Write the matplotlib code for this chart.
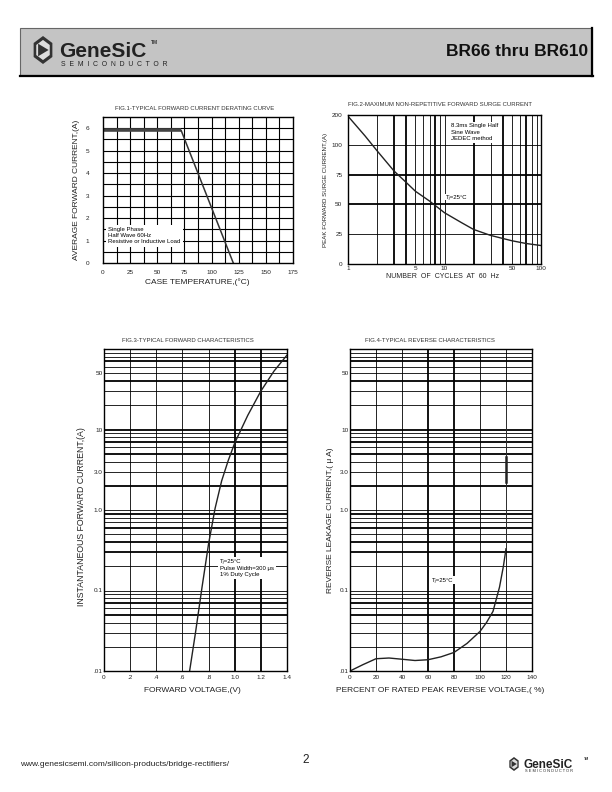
import matplotlib.pyplot as plt
from matplotlib.patches import Rectangle, RegularPolygon, Polygon

plt.rcParams['font.family'] = ['Liberation Sans', 'DejaVu Sans']

# ---- data ----
# Fig.1 derating curve
derate_temp = [0, 72, 120]
derate_amps = [5.9, 5.9, 0]

# Fig.2 surge current (axis units, top gridline is labelled "200")
surge_cycles = [1, 1.5, 2, 3, 4, 5, 7, 10, 15, 20, 30, 50, 70, 100]
surge_amps = [124, 107.5, 95, 78, 68.5, 61, 52.8, 43, 34.7, 29, 24, 19.5, 17.2, 15.5]
surge_yticks = [0, 25, 50, 75, 100, 125]
surge_ylabels = ['0', '25', '50', '75', '100', '200']
surge_xticks = [1, 5, 10, 50, 100]

# Fig.3 forward characteristics
fwd_volts = [0.655, 0.7, 0.75, 0.8, 0.85, 0.9, 0.95, 1.0, 1.1, 1.2, 1.3, 1.4]
fwd_amps = [0.01, 0.03, 0.11, 0.38, 1.05, 2.3, 4.1, 6.8, 15, 30, 53, 84]
fwd_xticks = [0, 0.2, 0.4, 0.6, 0.8, 1.0, 1.2, 1.4]
fwd_xlabels = ['0', '.2', '.4', '.6', '.8', '1.0', '1.2', '1.4']

# Fig.4 reverse characteristics
rev_pct = [0, 10, 20, 30, 40, 50, 60, 70, 80, 90, 100, 105, 110, 115, 118, 120]
rev_ua = [0.01, 0.012, 0.0142, 0.0145, 0.014, 0.0135, 0.0138, 0.015, 0.017,
          0.022, 0.031, 0.04, 0.055, 0.11, 0.2, 0.33]
rev_riser_pct = [120, 120]
rev_riser_ua = [0.33, 23]
rev_riser_thick = [2.2, 4.6]

log_yticks = [0.01, 0.1, 1, 3, 10, 50]
log_ylabels = ['.01', '0.1', '1.0', '3.0', '10', '50']
thick_rows = [0.05, 0.07, 0.3, 0.4, 0.6, 0.9, 2, 5, 7, 10, 40, 70]

W, H = 612, 792
fig = plt.figure(figsize=(6.12, 7.92), dpi=100)


def rect(l, t, r, b):
    return [l / W, 1 - b / H, (r - l) / W, (b - t) / H]


def ftxt(x, y, s, **kw):
    fig.text(x / W, 1 - y / H, s, **kw)


def frame(ax):
    for sp in ax.spines.values():
        sp.set_linewidth(1.0)
        sp.set_color('black')
    ax.tick_params(length=0, labelsize=4.6, colors='#222222')


# ---- header ----
fig.patches.append(Rectangle((20 / W, 1 - 75 / H), 572 / W, 47 / H, transform=fig.transFigure,
                             facecolor='#c4c4c4', edgecolor='#666666', lw=0.8))
fig.lines.append(plt.Line2D([592 / W, 592 / W], [1 - 28 / H, 1 - 76 / H], transform=fig.transFigure,
                            color='black', lw=1.6))
fig.lines.append(plt.Line2D([20 / W, 593 / W], [1 - 76 / H, 1 - 76 / H], transform=fig.transFigure,
                            color='black', lw=1.6))


def logo(cx, cy, r, size, small):
    fig.patches.append(RegularPolygon((cx / W, 1 - cy / H), 6, radius=r / H, orientation=0,
                                      transform=fig.transFigure, facecolor='#333333',
                                      edgecolor='none'))
    fig.patches.append(RegularPolygon((cx / W, 1 - cy / H), 6, radius=r * 0.72 / H, orientation=0,
                                      transform=fig.transFigure, facecolor='#dddddd',
                                      edgecolor='none'))
    pts = [(cx - r * 0.35, cy - r * 0.45), (cx + r * 0.4, cy), (cx - r * 0.35, cy + r * 0.45)]
    fig.patches.append(Polygon([(x / W, 1 - y / H) for x, y in pts], closed=True,
                               transform=fig.transFigure, facecolor='#333333', edgecolor='none'))
    ftxt(cx + r + 2, cy + r * 0.1, 'GeneSiC', fontsize=size, fontweight='bold', color='#222222',
         va='center', ha='left')
    ftxt(cx + r + 4, cy + r * 1.05, small, fontsize=size * 0.33, color='#222222',
         va='center', ha='left')


logo(43, 50, 14, 15, 'S  E  M  I  C  O  N  D  U  C  T  O  R')
ftxt(151, 42, 'TM', fontsize=3.5, fontweight='bold', color='#333333', va='center')
ftxt(588, 52, 'BR66 thru BR610', fontsize=12.5, fontweight='bold', ha='right', va='center',
     color='#111111')

# ---- Fig.1 ----
ax1 = fig.add_axes(rect(103, 117, 293, 263))
for x in [12.5 * i for i in range(1, 14)]:
    ax1.axvline(x, color='black', lw=0.8)
for y in [0.5 * i for i in range(1, 13)]:
    ax1.axhline(y, color='black', lw=0.8)
ax1.plot(derate_temp[:2], derate_amps[:2], color='#444444', lw=2.6, solid_capstyle='butt')
ax1.plot(derate_temp[1:], derate_amps[1:], color='#333333', lw=1.1)
ax1.set_xlim(0, 175)
ax1.set_ylim(0, 6.5)
ax1.set_xticks([0, 25, 50, 75, 100, 125, 150, 175])
ax1.set_yticks([0, 1, 2, 3, 4, 5, 6])
frame(ax1)
ax1.tick_params(axis='y', pad=10)
ax1.tick_params(axis='x', pad=5)
ax1.text(5, 1.62, 'Single Phase\nHalf Wave 60Hz\nResistive or Inductive Load', fontsize=4.3,
         va='top', ha='left', linespacing=1.35,
         bbox=dict(facecolor='white', edgecolor='none', pad=1.5))
ftxt(195, 108, 'FIG.1-TYPICAL FORWARD CURRENT DERATING CURVE', fontsize=4.3, ha='center',
     va='center', color='#333333')
ftxt(77, 190, 'AVERAGE FORWARD CURRENT,(A)', fontsize=6, rotation=90, ha='center', va='center',
     color='#222222')
ftxt(197, 282, 'CASE TEMPERATURE,(\u00b0C)', fontsize=6, ha='center', va='center', color='#222222')

# ---- Fig.2 ----
ax2 = fig.add_axes(rect(348, 115, 541, 264))
ax2.set_xscale('log')
thick_cols = [3, 4, 8, 20, 40, 70]
for dec in [1, 10]:
    for m in range(2, 10):
        ax2.axvline(dec * m, color='black', lw=1.3 if dec * m in thick_cols else 0.6)
ax2.axvline(10, color='black', lw=0.6)
for y, lw in [(25, 0.6), (50, 1.3), (75, 1.3), (100, 0.6)]:
    ax2.axhline(y, color='black', lw=lw)
ax2.plot(surge_cycles, surge_amps, color='#222222', lw=1.0)
ax2.set_xlim(1, 100)
ax2.set_ylim(0, 125)
ax2.set_xticks(surge_xticks)
ax2.set_xticklabels([str(v) for v in surge_xticks])
ax2.minorticks_off()
ax2.set_yticks(surge_yticks)
ax2.set_yticklabels(surge_ylabels)
frame(ax2)
ax2.tick_params(axis='y', pad=4)
ax2.tick_params(axis='x', pad=1.5)
ax2.text(11.6, 118, '8.3ms Single Half\nSine Wave\nJEDEC method', fontsize=4.3, va='top',
         ha='left', linespacing=1.35, bbox=dict(facecolor='white', edgecolor='none', pad=1))
ax2.text(10.4, 54, 'T\u2c7c=25\u00b0C', fontsize=4.3, va='bottom', ha='left',
         bbox=dict(facecolor='white', edgecolor='none', pad=0.5))
ftxt(440, 104, 'FIG.2-MAXIMUM NON-REPETITIVE FORWARD SURGE CURRENT', fontsize=4.3,
     ha='center', va='center', color='#333333')
ftxt(325, 190, 'PEAK FORWARD SURGE CURRENT,(A)', fontsize=4.4, rotation=90, ha='center',
     va='center', color='#222222')
ftxt(443, 277, 'NUMBER  OF  CYCLES  AT  60  Hz', fontsize=5, ha='center', va='center',
     color='#222222')


# ---- Fig.3 / Fig.4 shared log grid ----
def log_grid(ax, cols, thick_x):
    ax.set_yscale('log')
    for dec in [0.01, 0.1, 1, 10]:
        for m in range(1, 10):
            v = round(dec * m, 4)
            if v == 0.01:
                continue
            ax.axhline(v, color='black', lw=1.3 if v in thick_rows else 0.6)
    for x in cols:
        ax.axvline(x, color='black', lw=1.3 if x in thick_x else 0.6)
    ax.set_ylim(0.01, 100)
    ax.set_yticks(log_yticks)
    ax.set_yticklabels(log_ylabels)
    ax.minorticks_off()
    frame(ax)
    ax.tick_params(axis='y', pad=1)
    ax.tick_params(axis='x', pad=3)


ax3 = fig.add_axes(rect(104, 349, 287, 671))
log_grid(ax3, [0.2, 0.4, 0.6, 0.8, 1.0, 1.2], [1.0, 1.2])
ax3.plot(fwd_volts, fwd_amps, color='#222222', lw=1.0)
ax3.set_xlim(0, 1.4)
ax3.set_xticks(fwd_xticks)
ax3.set_xticklabels(fwd_xlabels)
ax3.text(0.89, 0.245, 'T\u2c7c=25\u00b0C\nPulse Width=300 \u03bcs\n1% Duty Cycle', fontsize=4.3,
         va='top', ha='left', linespacing=1.35,
         bbox=dict(facecolor='white', edgecolor='none', pad=1.5))
ftxt(188, 340, 'FIG.3-TYPICAL FORWARD CHARACTERISTICS', fontsize=4.3, ha='center', va='center',
     color='#333333')
ftxt(81, 517, 'INSTANTANEOUS FORWARD CURRENT,(A)', fontsize=6.3, rotation=90, ha='center',
     va='center', color='#222222')
ftxt(192, 690, 'FORWARD VOLTAGE,(V)', fontsize=6, ha='center', va='center', color='#222222')

ax4 = fig.add_axes(rect(350, 349, 532, 671))
log_grid(ax4, [20, 40, 60, 80, 100, 120], [60, 80])
ax4.plot(rev_pct, rev_ua, color='#222222', lw=1.0)
ax4.plot(rev_riser_pct, rev_riser_ua, color='#333333', lw=0.6)
ax4.plot(rev_riser_pct, rev_riser_thick, color='#222222', lw=1.8)
ax4.set_xlim(0, 140)
ax4.set_xticks([0, 20, 40, 60, 80, 100, 120, 140])
ax4.text(63, 0.135, 'T\u2c7c=25\u00b0C', fontsize=4.3, va='center', ha='left',
         bbox=dict(facecolor='white', edgecolor='none', pad=0.8))
ftxt(430, 340, 'FIG.4-TYPICAL REVERSE CHARACTERISTICS', fontsize=4.3, ha='center', va='center',
     color='#333333')
ftxt(330, 520, 'REVERSE LEAKAGE CURRENT,( \u03bc A)', fontsize=6, rotation=90, ha='center',
     va='center', color='#222222')
ftxt(440, 691, 'PERCENT OF RATED PEAK REVERSE VOLTAGE,( %)', fontsize=6, ha='center',
     va='center', color='#222222')

# ---- footer ----
ftxt(20, 765, 'www.genesicsemi.com/silicon-products/bridge-rectifiers/', fontsize=6,
     ha='left', va='center', color='#222222')
ftxt(306, 760, '2', fontsize=8.5, ha='center', va='center', color='#222222')
logo(514, 764, 7, 8.5, 'S E M I C O N D U C T O R')
ftxt(584, 759, 'TM', fontsize=2.5, fontweight='bold', color='#333333', va='center')

fig.savefig('out.png', dpi=100, facecolor='white')
